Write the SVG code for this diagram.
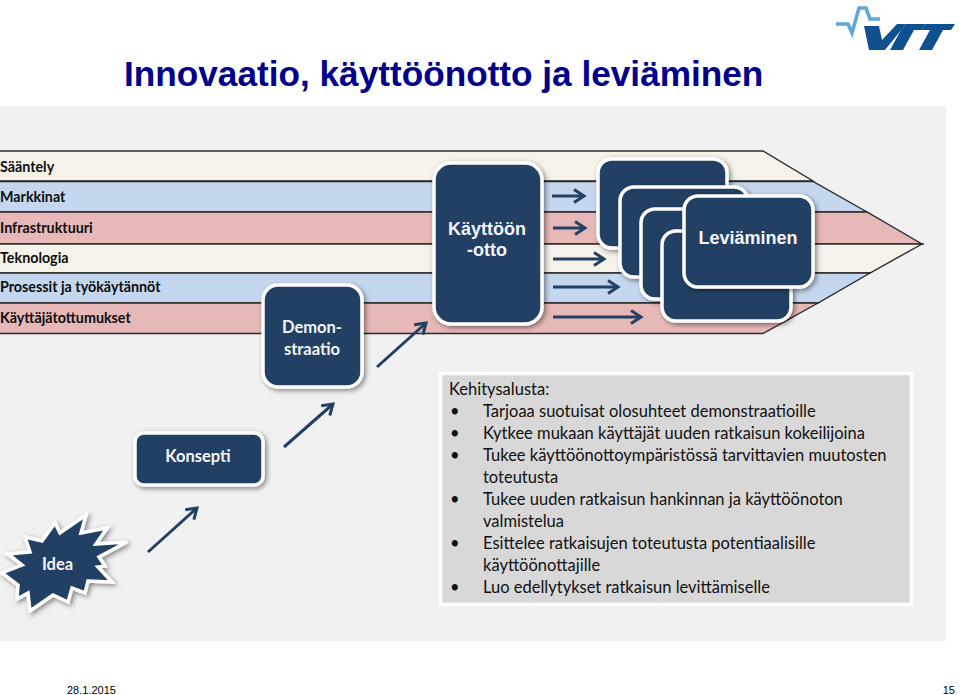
<svg xmlns="http://www.w3.org/2000/svg" width="960" height="695" viewBox="0 0 960 695">
<style>
.title{font:bold 35.2px "Liberation Sans",Arial,sans-serif;fill:#00008c}
.foot{font:11px "Liberation Sans",Arial,sans-serif;fill:#000}
.band{stroke:#2b2b2b;stroke-width:1.4}
.cream{fill:#f5f2ea}.blue{fill:#c5d7ef}.red{fill:#e6b8b7}
.lab{font:bold 14.3px Lato,"Open Sans",sans-serif;fill:#0d0d0d}
.box{fill:#234064;stroke:#fff;stroke-width:3.5;filter:url(#sh)}
.bl{font:bold 16.5px Lato,"Open Sans",sans-serif;fill:#f4f6f9;text-anchor:middle}
.ar{font:bold 18px "Liberation Sans",Arial,sans-serif;fill:#f4f6f9;text-anchor:middle}
.con{fill:none;stroke:#234064;stroke-width:3;marker-end:url(#head)}
.t{font:16.5px Lato,"Open Sans",sans-serif;fill:#111}
</style>
<defs>
<filter id="sh" x="-20%" y="-20%" width="140%" height="140%"><feDropShadow dx="2" dy="2" stdDeviation="2.5" flood-color="#000" flood-opacity="0.45"/></filter>
<marker id="head" markerUnits="userSpaceOnUse" markerWidth="20" markerHeight="20" refX="15" refY="10" orient="auto" overflow="visible"><path d="M5,3.500 L15,10 L5,16.500" fill="none" stroke="#234064" stroke-width="3"/></marker>
</defs>
<rect width="960" height="695" fill="#fff"/>
<rect x="0" y="106" width="946" height="535" fill="#f1f1f1"/>
<text class="title" x="124" y="86">Innovaatio, käyttöönotto ja leviäminen</text>
<g id="logo">
<path d="M836,24 H848 L852,33 L859,8 H866 L870,19 H880" fill="none" stroke="#5fa8dc" stroke-width="3.600"/>
<polygon fill="#11508f" points="864,26 879,26 882,40 897,24 906,24 885,50 869,50"/>
<polygon fill="#11508f" points="906,24 926,24 921,30 914,30 903,50 890,50 901,30"/>
<polygon fill="#11508f" points="926,24 955,24 951,30 943,30 932,50 919,50 930,30 921,30"/>
</g>
<g id="band-saantely"><polygon class="band cream" points="-2,151 763,151 813,181 -2,181"/><text class="lab" x="0" y="172">Sääntely</text></g>
<g id="band-markkinat"><polygon class="band blue" points="-2,181.500 813,181.500 867,212 -2,212"/><text class="lab" x="0" y="202">Markkinat</text></g>
<g id="band-infrastruktuuri"><polygon class="band red" points="-2,212 867,212 922,244 -2,244"/><text class="lab" x="0" y="233">Infrastruktuuri</text></g>
<g id="band-teknologia"><polygon class="band cream" points="-2,244 922,244 870,273 -2,273"/><text class="lab" x="0" y="263">Teknologia</text></g>
<g id="band-prosessit"><polygon class="band blue" points="-2,273 870,273 818,303 -2,303"/><text class="lab" x="0" y="292">Prosessit ja työkäytännöt</text></g>
<g id="band-kayttajatottumukset"><polygon class="band red" points="-2,303 818,303 763,333.500 -2,333.500"/><text class="lab" x="0" y="323">Käyttäjätottumukset</text></g>
<g id="connectors">
<path class="con" d="M148,552 L197,508"/>
<path class="con" d="M284,447 L333,404"/>
<path class="con" d="M377,367 L426,323"/>
<path class="con" d="M552,196 L584,196"/>
<path class="con" d="M553,228 L585,228"/>
<path class="con" d="M553,259 L604,259"/>
<path class="con" d="M553,287 L618,287"/>
<path class="con" d="M553,317 L641,317"/>
</g>
<g id="idea"><polygon class="box" points="86,515 81,533 107,528 96,544 127,542 99,557 105,566 98,567 112,582 88,581 85,593 72,588 68,602 53,595 43,602 30,611 28,593 17,599 18,585 2,573 22,565 8,554 30,552 25,537 42,541 55,523 60,533"/><text class="bl" x="57.500" y="570">Idea</text></g>
<g id="konsepti"><rect class="box" x="135" y="433" width="128" height="52" rx="9"/><text class="bl" x="198" y="462">Konsepti</text></g>
<g id="demonstraatio"><rect class="box" x="263" y="285" width="99" height="102" rx="15"/><text class="bl" x="312" y="333">Demon-</text><text class="bl" x="312" y="355">straatio</text></g>
<g id="kayttoonotto"><rect class="box" x="434" y="163" width="108" height="161" rx="17"/><text class="ar" x="487" y="235">Käyttöön</text><text class="ar" x="487" y="256">-otto</text></g>
<g id="stack-1"><rect class="box" x="598" y="159" width="129" height="89" rx="14"/></g>
<g id="stack-2"><rect class="box" x="620" y="187" width="128" height="90" rx="14"/></g>
<g id="stack-3"><rect class="box" x="641" y="209" width="129" height="90" rx="14"/></g>
<g id="stack-4"><rect class="box" x="662" y="231" width="129" height="90" rx="14"/></g>
<g id="leviaminen"><rect class="box" x="684" y="196" width="129" height="91" rx="14"/><text class="ar" x="748" y="244">Leviäminen</text></g>
<g id="kehitysalusta">
<rect x="440.500" y="373.500" width="471" height="231" fill="#d8d8d8" stroke="#fff" stroke-width="3.500"/>
<text class="t" x="449" y="395">Kehitysalusta:</text>
<text class="t" x="450" y="417">•</text><text class="t" x="483" y="417">Tarjoaa suotuisat olosuhteet demonstraatioille</text>
<text class="t" x="450" y="439">•</text><text class="t" x="483" y="439">Kytkee mukaan käyttäjät uuden ratkaisun kokeilijoina</text>
<text class="t" x="450" y="461">•</text><text class="t" x="483" y="461">Tukee käyttöönottoympäristössä tarvittavien muutosten</text>
<text class="t" x="483" y="483">toteutusta</text>
<text class="t" x="450" y="505">•</text><text class="t" x="483" y="505">Tukee uuden ratkaisun hankinnan ja käyttöönoton</text>
<text class="t" x="483" y="527">valmistelua</text>
<text class="t" x="450" y="549">•</text><text class="t" x="483" y="549">Esittelee ratkaisujen toteutusta potentiaalisille</text>
<text class="t" x="483" y="571">käyttöönottajille</text>
<text class="t" x="450" y="593">•</text><text class="t" x="483" y="593">Luo edellytykset ratkaisun levittämiselle</text>
</g>
<text class="foot" x="67" y="694">28.1.2015</text>
<text class="foot" x="955" y="694" text-anchor="end">15</text>
</svg>
